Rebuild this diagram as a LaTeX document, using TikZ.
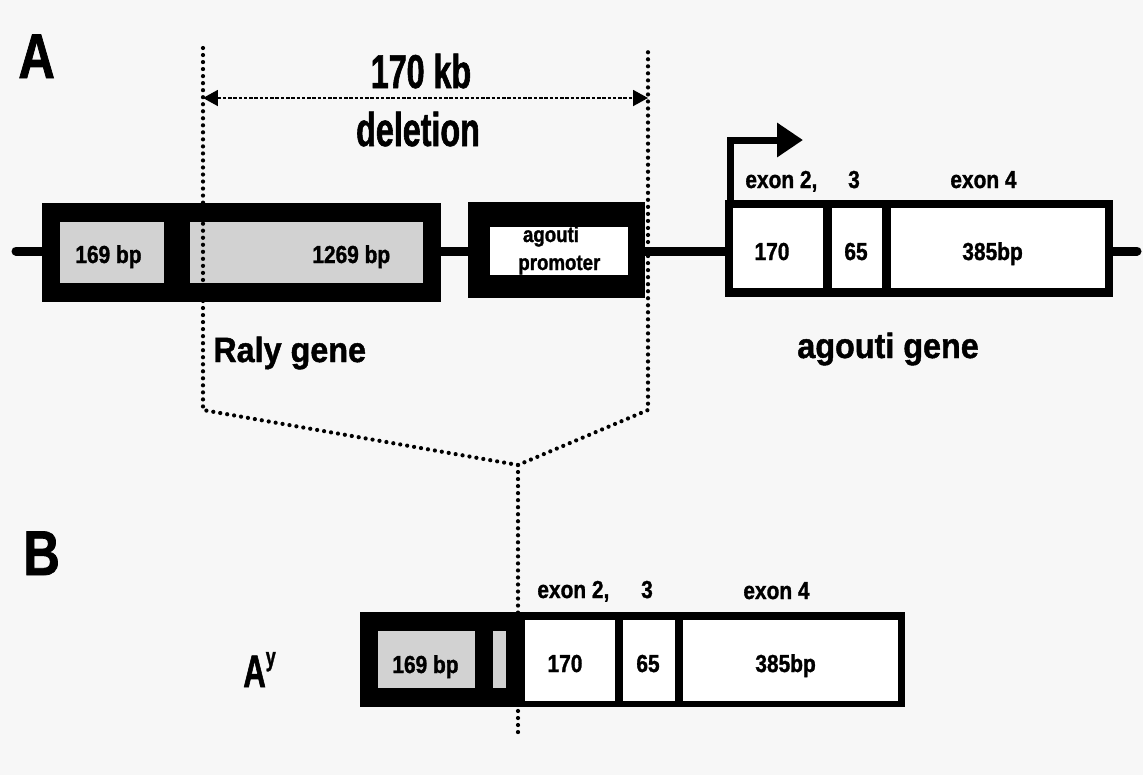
\documentclass[tikz,border=0pt]{standalone}
\usepackage{fontspec}
\setmainfont{Liberation Sans}
\newfontfamily\lblfont{Liberation Sans}[FakeStretch=0.85, FakeBold=1.2]
\newfontfamily\genefont{Liberation Sans}[FakeStretch=0.92, FakeBold=1.2]
\newfontfamily\delfont{Liberation Sans}[FakeStretch=0.68, FakeBold=1.2]
\newfontfamily\panelfont{Liberation Sans}[FakeStretch=0.8, FakeBold=1.2]
\usetikzlibrary{arrows.meta}
\tikzset{
  blackbox/.style={fill=black},
  grayseg/.style={fill=gray!35},
  exonseg/.style={fill=white},
  chrline/.style={line width=0.18cm, line cap=round},
  dotline/.style={line width=2.4pt, line cap=round, dash pattern=on 0pt off 4pt},
  delarrow/.style={{Triangle[length=0.3cm,width=0.32cm]}-{Triangle[length=0.3cm,width=0.32cm]}, line width=1.1pt, dash pattern=on 2pt off 1pt},
  tssarrow/.style={-{Triangle[length=0.52cm,width=0.66cm]}, line width=0.14cm, line join=miter},
  smalllbl/.style={font=\lblfont\bfseries\fontsize{14}{16}\selectfont, inner sep=0pt},
  promlbl/.style={font=\lblfont\bfseries\fontsize{12.5}{14}\selectfont, inner sep=0pt},
  genelbl/.style={font=\genefont\bfseries\fontsize{20}{24}\selectfont, inner sep=0pt},
  dellbl/.style={font=\delfont\bfseries\fontsize{27}{30}\selectfont, inner sep=0pt},
  panellbl/.style={font=\panelfont\bfseries\fontsize{36}{40}\selectfont, inner sep=0pt}
}
\begin{document}
\begin{tikzpicture}[x=0.02cm,y=-0.02cm]
\fill[gray!6] (0,0) rectangle (1143,775);
\useasboundingbox (0,0) rectangle (1143,775);

% panel letters
\node[panellbl, anchor=base west] (panelA) at (18,78) {A};
\node[panellbl, anchor=base west] (panelB) at (23,575) {B};

% chromosome
\coordinate (chrL) at (16,251);
\coordinate (chrR) at (1137,251);
\draw[chrline] (chrL) -- (chrR);

% Raly gene
\fill[blackbox] (42,203) rectangle (441,302);
\fill[grayseg] (60,222) rectangle (164,283);
\fill[grayseg] (190,222) rectangle (423,283);
\node[smalllbl, anchor=base west] (raly169) at (75,263) {169 bp};
\node[smalllbl, anchor=base west] (raly1269) at (312,263) {1269 bp};
\node[genelbl, anchor=base west] (ralyname) at (213,362) {Raly gene};

% agouti promoter
\fill[blackbox] (468,202) rectangle (645,298);
\fill[exonseg] (490,227) rectangle (628,275);
\node[promlbl, anchor=base] (promA) at (551,242) {agouti};
\node[promlbl, anchor=base west] (promB) at (518,270) {promoter};

% agouti gene
\fill[blackbox] (725,200) rectangle (1113,297);
\fill[exonseg] (733,208) rectangle (823,288);
\fill[exonseg] (832,208) rectangle (882,288);
\fill[exonseg] (891,208) rectangle (1105,288);
\node[smalllbl, anchor=base] (top170) at (772,260) {170};
\node[smalllbl, anchor=base] (top65) at (856,260) {65};
\node[smalllbl, anchor=base west] (top385) at (962,260) {385bp};
\node[smalllbl, anchor=base west] (topex2) at (745,188) {exon 2,};
\node[smalllbl, anchor=base] (topex3) at (854,188) {3};
\node[smalllbl, anchor=base west] (topex4) at (950,188) {exon 4};
\node[genelbl, anchor=base west] (agname) at (797,358) {agouti gene};

% transcription start
\coordinate (tssbase) at (730,200);
\coordinate (tsstip) at (803,140);
\draw[tssarrow] (tssbase) |- (tsstip);

% deletion
\coordinate (delL) at (203,48);
\coordinate (delLb) at (203,410);
\coordinate (delR) at (648,46);
\coordinate (delRb) at (648,410);
\coordinate (delJ) at (518,465);
\coordinate (delEnd) at (518,735);
\coordinate (arrL) at (203,98);
\coordinate (arrR) at (648,98);
\draw[delarrow] (arrL) -- (arrR);
\node[dellbl, anchor=base] (delsize) at (421,88) {170 kb};
\node[dellbl, anchor=base] (delname) at (418,146) {deletion};

% A^y allele
\fill[blackbox] (360,612) rectangle (905,707);
\fill[grayseg] (378,631) rectangle (475,688);
\fill[grayseg] (493,631) rectangle (506,688);
\fill[exonseg] (525,620) rectangle (615,701);
\fill[exonseg] (623,620) rectangle (675,701);
\fill[exonseg] (683,620) rectangle (898,701);
\node[smalllbl, anchor=base west] (ay169) at (392,673) {169 bp};
\node[smalllbl, anchor=base] (ay170) at (565,672) {170};
\node[smalllbl, anchor=base] (ay65) at (648,672) {65};
\node[smalllbl, anchor=base west] (ay385) at (755,672) {385bp};
\node[smalllbl, anchor=base west] (ayex2) at (537,598) {exon 2,};
\node[smalllbl, anchor=base] (ayex3) at (647,598) {3};
\node[smalllbl, anchor=base west] (ayex4) at (743,599) {exon 4};
\node[dellbl, anchor=base west, font=\delfont\bfseries\fontsize{26}{30}\selectfont] (ayname) at (243,687) {A\raisebox{12pt}{\fontsize{15}{15}\selectfont y}};

% dotted outline of the deleted region
\draw[dotline] (delL) -- (delLb) -- (delJ) -- (delRb) -- (delR);
\draw[dotline] (delJ) -- (delEnd);
\end{tikzpicture}
\end{document}
